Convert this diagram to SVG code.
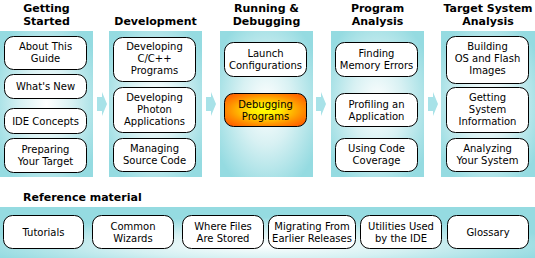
<svg xmlns="http://www.w3.org/2000/svg" width="535" height="258" viewBox="0 0 535 258">
<defs>
<radialGradient id="pg" cx="0.5" cy="0.5" r="0.62">
<stop offset="0" stop-color="#ffffff"/>
<stop offset="0.45" stop-color="#d8f1f3"/>
<stop offset="1" stop-color="#95dbe1"/>
</radialGradient>
<radialGradient id="bg" cx="0.5" cy="0.75" r="0.55">
<stop offset="0" stop-color="#ffffff"/>
<stop offset="0.5" stop-color="#d4f0f2"/>
<stop offset="1" stop-color="#95dbe1"/>
</radialGradient>
<radialGradient id="og" cx="0.5" cy="0.5" r="0.6">
<stop offset="0" stop-color="#ffff00"/>
<stop offset="0.3" stop-color="#ffe800"/>
<stop offset="0.75" stop-color="#ff9000"/>
<stop offset="1" stop-color="#ff6600"/>
</radialGradient>
</defs>
<style>
.panel{fill:url(#pg)}
.bpanel{fill:url(#bg)}
.box{fill:#ffffff;stroke:#000000;stroke-width:1}
.hot{fill:url(#og);stroke:#000000;stroke-width:1}
.t{font-family:"DejaVu Sans","Verdana",sans-serif;font-size:10px;fill:#000000;text-anchor:middle}
.h{font-family:"DejaVu Sans","Verdana",sans-serif;font-size:11px;font-weight:bold;fill:#000000;text-anchor:middle}
.arrow{fill:#a8e2e8}
</style>
<rect x="0" y="0" width="535" height="258" fill="#ffffff"/>

<g id="panels">
<rect class="panel" x="0" y="31" width="93" height="146"/>
<rect class="panel" x="109" y="31" width="93" height="146"/>
<rect class="panel" x="220" y="31" width="93" height="146"/>
<rect class="panel" x="331" y="31" width="93" height="146"/>
<rect class="panel" x="441" y="31" width="94" height="146"/>
<rect class="bpanel" x="0" y="207" width="535" height="51"/>
</g>

<g id="headers">
<text class="h" x="46.5" y="12">Getting</text>
<text class="h" x="46.5" y="25">Started</text>
<text class="h" x="155.5" y="25">Development</text>
<text class="h" x="266.5" y="12">Running &amp;</text>
<text class="h" x="266.5" y="25">Debugging</text>
<text class="h" x="377.5" y="12">Program</text>
<text class="h" x="377.5" y="25">Analysis</text>
<text class="h" x="488" y="12">Target System</text>
<text class="h" x="488" y="25">Analysis</text>
<text class="h" x="23" y="201" style="text-anchor:start">Reference material</text>
</g>

<g id="connectors">
<polygon class="arrow" points="97,97 102,97 102,92 107,104 102,116 102,111 97,111"/>
<polygon class="arrow" points="206,97 211,97 211,92 216,104 211,116 211,111 206,111"/>
<polygon class="arrow" points="316,97 321,97 321,92 326,104 321,116 321,111 316,111"/>
<polygon class="arrow" points="428,97 433,97 433,92 438,104 433,116 433,111 428,111"/>
</g>

<g id="about">
<rect class="box" x="4.5" y="36.5" width="82" height="33" rx="9"/>
<text class="t" x="45.5" y="50">About This</text>
<text class="t" x="45.5" y="62">Guide</text>
</g>
<g id="whatsnew">
<rect class="box" x="4.5" y="74.5" width="82" height="24" rx="9"/>
<text class="t" x="45.5" y="90">What's New</text>
</g>
<g id="ideconcepts">
<rect class="box" x="4.5" y="108.5" width="82" height="25" rx="9"/>
<text class="t" x="45.5" y="124.5">IDE Concepts</text>
</g>
<g id="preparing">
<rect class="box" x="4.5" y="138.5" width="82" height="34" rx="9"/>
<text class="t" x="45.5" y="152.5">Preparing</text>
<text class="t" x="45.5" y="164.5">Your Target</text>
</g>

<g id="devcpp">
<rect class="box" x="113.5" y="37.5" width="82" height="44" rx="9"/>
<text class="t" x="154.5" y="50">Developing</text>
<text class="t" x="154.5" y="62">C/C++</text>
<text class="t" x="154.5" y="74">Programs</text>
</g>
<g id="devphoton">
<rect class="box" x="113.5" y="87.5" width="82" height="45" rx="9"/>
<text class="t" x="154.5" y="101">Developing</text>
<text class="t" x="154.5" y="113">Photon</text>
<text class="t" x="154.5" y="125">Applications</text>
</g>
<g id="managing">
<rect class="box" x="113.5" y="138.5" width="82" height="33" rx="9"/>
<text class="t" x="154.5" y="152">Managing</text>
<text class="t" x="154.5" y="164">Source Code</text>
</g>

<g id="launch">
<rect class="box" x="224.5" y="42.5" width="82" height="34" rx="9"/>
<text class="t" x="265.5" y="56.5">Launch</text>
<text class="t" x="265.5" y="68.5">Configurations</text>
</g>
<g id="debugging">
<rect class="hot" x="224.5" y="93.5" width="82" height="33" rx="9"/>
<text class="t" x="265.5" y="108">Debugging</text>
<text class="t" x="265.5" y="120">Programs</text>
</g>

<g id="finding">
<rect class="box" x="335.5" y="42.5" width="82" height="34" rx="9"/>
<text class="t" x="376.5" y="56.5">Finding</text>
<text class="t" x="376.5" y="68.5">Memory Errors</text>
</g>
<g id="profiling">
<rect class="box" x="335.5" y="93.5" width="82" height="33" rx="9"/>
<text class="t" x="376.5" y="108">Profiling an</text>
<text class="t" x="376.5" y="120">Application</text>
</g>
<g id="coverage">
<rect class="box" x="335.5" y="138.5" width="82" height="33" rx="9"/>
<text class="t" x="376.5" y="152">Using Code</text>
<text class="t" x="376.5" y="164">Coverage</text>
</g>

<g id="building">
<rect class="box" x="446.5" y="36.5" width="82" height="47" rx="9"/>
<text class="t" x="487.5" y="50">Building</text>
<text class="t" x="487.5" y="62">OS and Flash</text>
<text class="t" x="487.5" y="74">Images</text>
</g>
<g id="sysinfo">
<rect class="box" x="446.5" y="87.5" width="82" height="45" rx="9"/>
<text class="t" x="487.5" y="101">Getting</text>
<text class="t" x="487.5" y="113">System</text>
<text class="t" x="487.5" y="125">Information</text>
</g>
<g id="analyzing">
<rect class="box" x="446.5" y="138.5" width="82" height="33" rx="9"/>
<text class="t" x="487.5" y="152">Analyzing</text>
<text class="t" x="487.5" y="164">Your System</text>
</g>

<g id="tutorials">
<rect class="box" x="3.5" y="215.5" width="80" height="33" rx="9"/>
<text class="t" x="43.5" y="236">Tutorials</text>
</g>
<g id="wizards">
<rect class="box" x="92.5" y="215.5" width="81" height="33" rx="9"/>
<text class="t" x="133" y="230">Common</text>
<text class="t" x="133" y="242">Wizards</text>
</g>
<g id="files">
<rect class="box" x="182.5" y="215.5" width="81" height="33" rx="9"/>
<text class="t" x="223" y="230">Where Files</text>
<text class="t" x="223" y="242">Are Stored</text>
</g>
<g id="migrating">
<rect class="box" x="268.5" y="215.5" width="87" height="33" rx="9"/>
<text class="t" x="312" y="230">Migrating From</text>
<text class="t" x="312" y="242">Earlier Releases</text>
</g>
<g id="utilities">
<rect class="box" x="360.5" y="215.5" width="81" height="33" rx="9"/>
<text class="t" x="401" y="230">Utilities Used</text>
<text class="t" x="401" y="242">by the IDE</text>
</g>
<g id="glossary">
<rect class="box" x="447.5" y="215.5" width="81" height="33" rx="9"/>
<text class="t" x="488" y="236">Glossary</text>
</g>
</svg>
